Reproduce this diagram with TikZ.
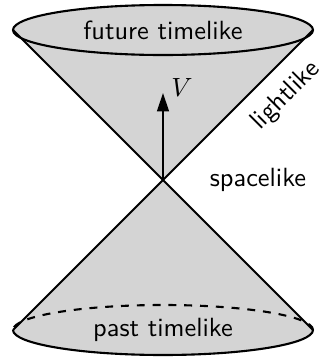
\documentclass[tikz,border=0pt]{standalone}
\usepackage{tikz}
\usetikzlibrary{arrows.meta}

\begin{document}
\begin{tikzpicture}[
            x=0.667cm, y=0.667cm,
            font=\sffamily,
            cone/.style     ={fill=black!17},
            edge/.style     ={thick, line join=round},
            vecarrow/.style ={-{Triangle[length=7pt, width=4.5pt]}, thick}
        ]
        \useasboundingbox (-3.26,-3.66) rectangle (3.14,3.6);

        \coordinate (apex) at (0,0);
        \coordinate (topL) at (-3,3);
        \coordinate (topR) at (3,3);
        \coordinate (botL) at (-3,-3);
        \coordinate (botR) at (3,-3);
        \coordinate (tip)  at (0,1.74);

        % cones
        \fill[cone] (topL) -- (apex) -- (topR) -- cycle;
        \fill[cone] (botL) -- (apex) -- (botR) arc (0:-180:3 and 0.5) -- cycle;
        \filldraw[cone, edge] (0,3) ellipse (3 and 0.5);
        \draw[edge] (botR) arc (0:-180:3 and 0.5);
        \draw[edge, dashed] (botR) arc (0:180:3 and 0.5);

        \draw[edge] (topL) -- (apex) -- (botR);
        \draw[edge] (botL) -- (apex) -- (topR);

        \draw[vecarrow] (apex) -- (tip);

        \node (V)      at (0.38,1.86)           {$V$};
        \node (future) at (0,3)                 {future timelike};
        \node (past)   at (0,-3)                {past timelike};
        \node (space)  at (1.9,0)               {spacelike};
        \node[rotate=45] (light) at (2.46,1.68) {lightlike};
\end{tikzpicture}
\end{document}
